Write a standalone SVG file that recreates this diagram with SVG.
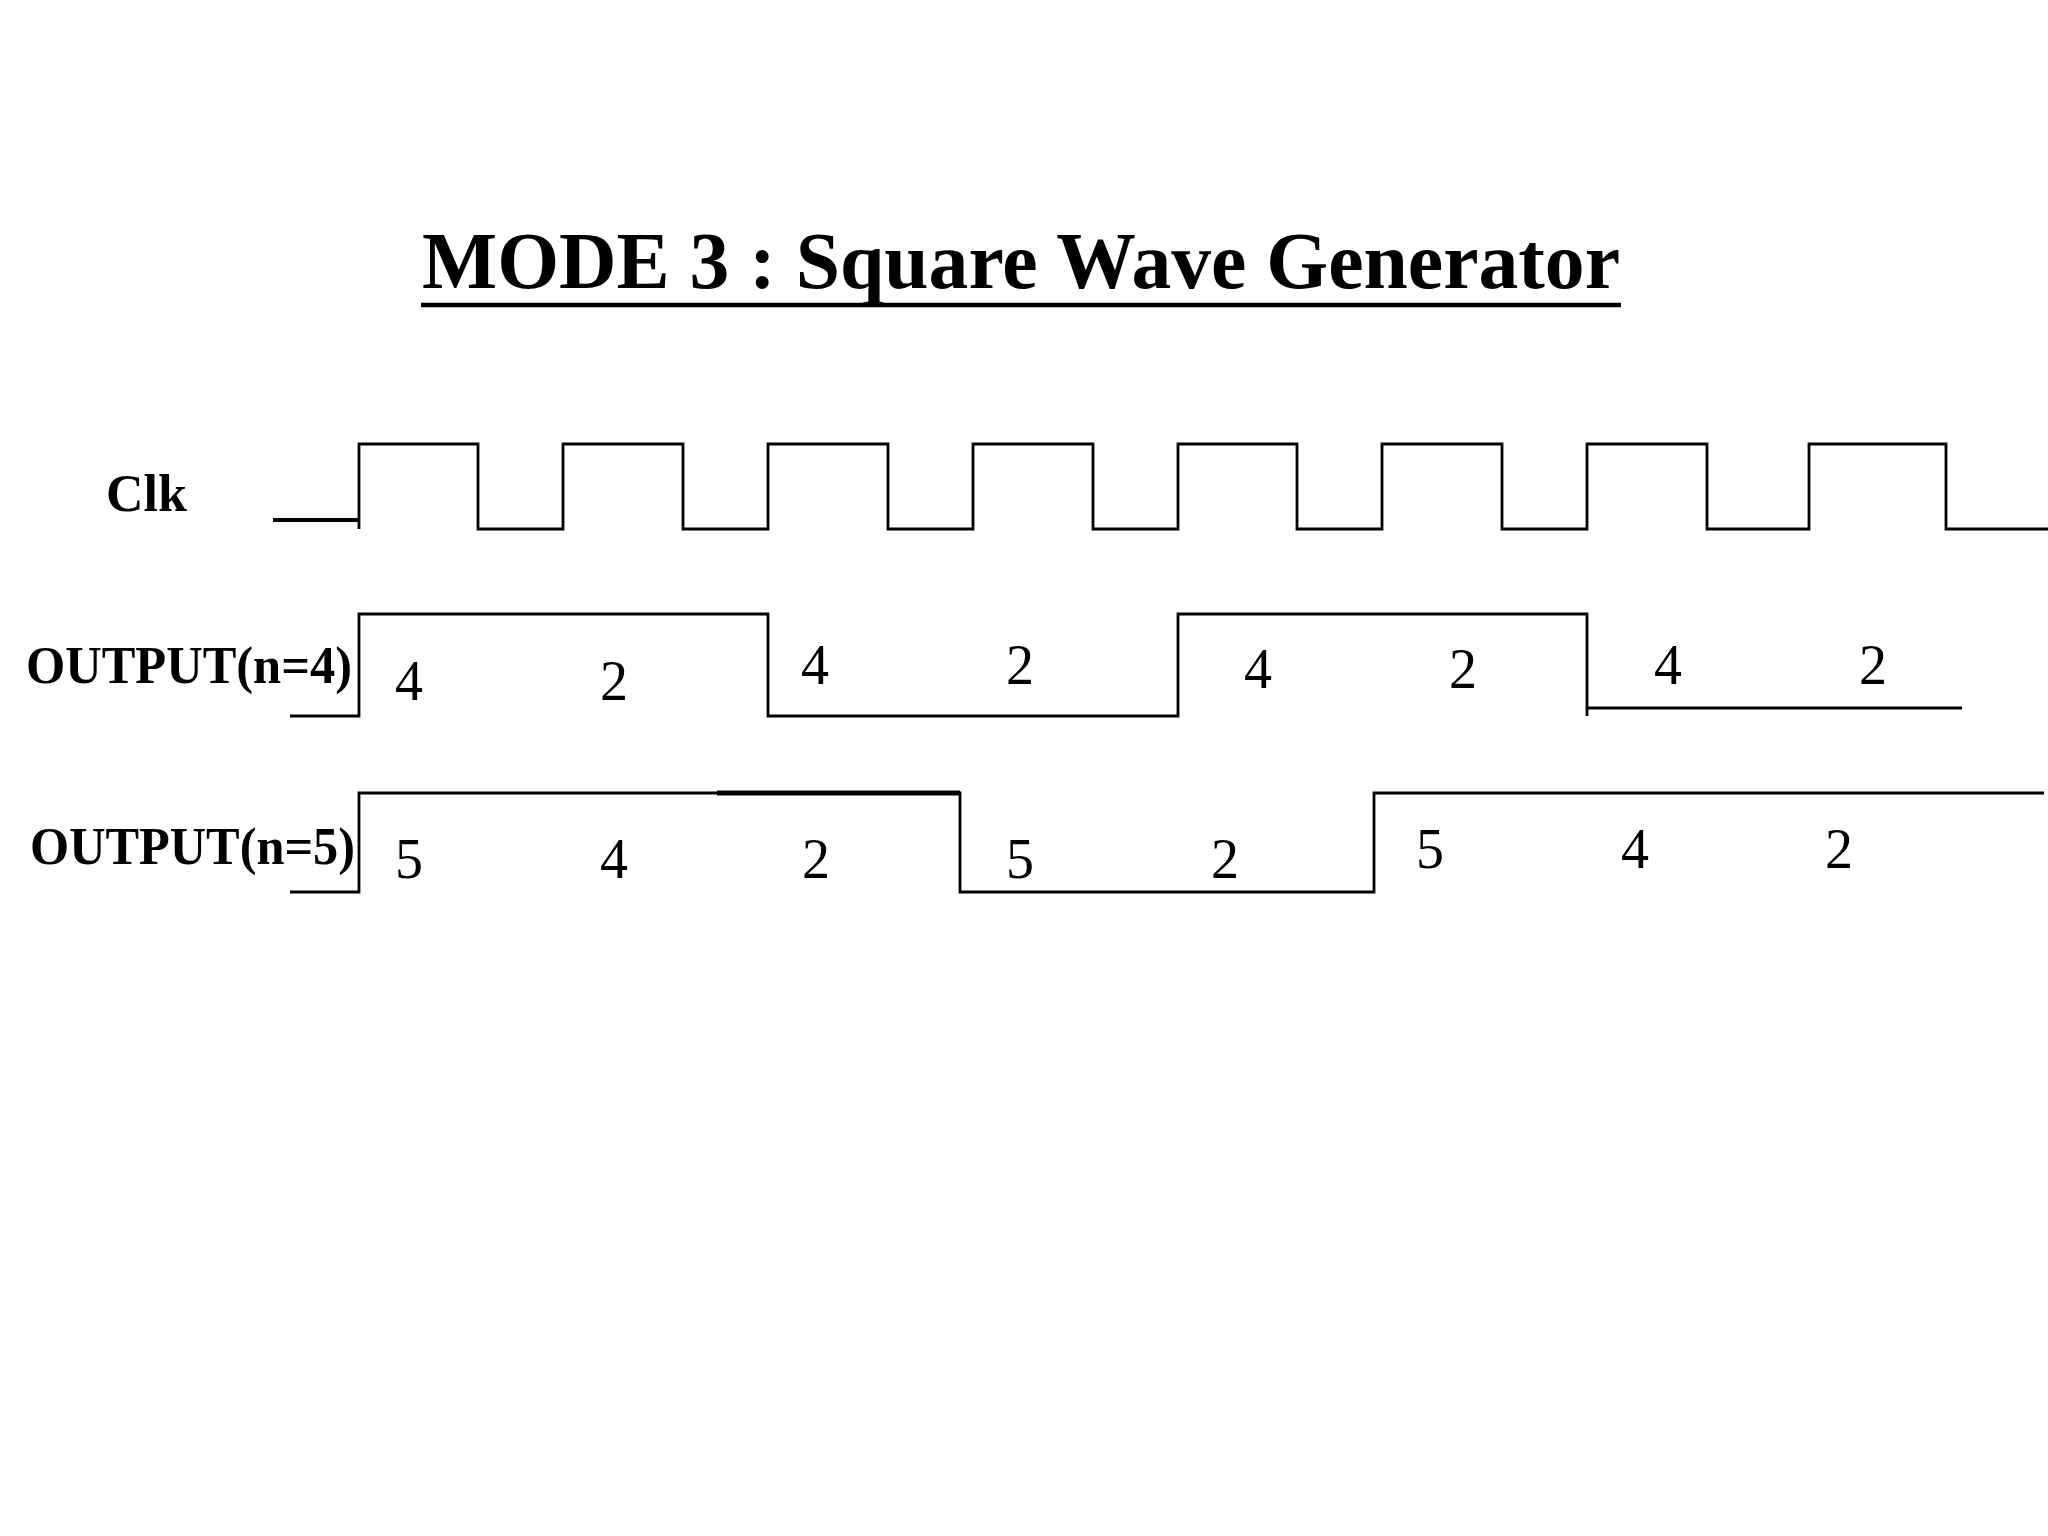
<svg xmlns="http://www.w3.org/2000/svg" width="2048" height="1536" viewBox="0 0 2048 1536">
<style>
.w{fill:none;stroke:#000;stroke-width:2.8}
.lb{font-family:"Liberation Serif",serif;font-weight:bold;font-size:52px}
.n{font-family:"Liberation Serif",serif;font-size:56px;text-anchor:middle}
</style>
<rect width="2048" height="1536" fill="#fff"/>
<g id="title">
<text x="422" y="288" font-family="Liberation Serif,serif" font-weight="bold" font-size="80" textLength="1198" lengthAdjust="spacingAndGlyphs">MODE 3 : Square Wave Generator</text>
<line x1="421" y1="305" x2="1621" y2="305" stroke="#000" stroke-width="4.5"/>
</g>
<g id="labels">
<text class="lb" x="106" y="511">Clk</text>
<text class="lb" x="26" y="683" textLength="326" lengthAdjust="spacingAndGlyphs">OUTPUT(n=4)</text>
<text class="lb" x="30" y="864" textLength="325" lengthAdjust="spacingAndGlyphs">OUTPUT(n=5)</text>
</g>
<g id="connectors">
<line x1="273" y1="520" x2="359" y2="520" stroke="#000" stroke-width="4"/>
<polyline class="w" points="359,529 359,444 478,444 478,529 563,529 563,444 683,444 683,529 768,529 768,444 888,444 888,529 973,529 973,444 1093,444 1093,529 1178,529 1178,444 1297,444 1297,529 1382,529 1382,444 1502,444 1502,529 1587,529 1587,444 1707,444 1707,529 1809,529 1809,444 1946,444 1946,529 2048,529"/>
<polyline class="w" points="290,716 359,716 359,614 768,614 768,716 1178,716 1178,614 1587,614 1587,716"/>
<polyline class="w" points="1587,708 1962,708"/>
<polyline class="w" points="290,892 359,892 359,793 960,793 960,892 1374,892 1374,793 2044,793"/>
<line x1="717" y1="793" x2="960" y2="793" stroke="#000" stroke-width="5"/>
</g>
<g id="n4">
<text class="n" x="409" y="700">4</text><text class="n" x="614" y="700">2</text>
<text class="n" x="815" y="684">4</text><text class="n" x="1020" y="684">2</text>
<text class="n" x="1258" y="688">4</text><text class="n" x="1463" y="688">2</text>
<text class="n" x="1668" y="684">4</text><text class="n" x="1873" y="684">2</text>
</g>
<g id="n5">
<text class="n" x="409" y="878">5</text><text class="n" x="614" y="878">4</text>
<text class="n" x="816" y="878">2</text><text class="n" x="1020" y="878">5</text>
<text class="n" x="1225" y="878">2</text><text class="n" x="1430" y="868">5</text>
<text class="n" x="1635" y="868">4</text><text class="n" x="1839" y="868">2</text>
</g>
</svg>
